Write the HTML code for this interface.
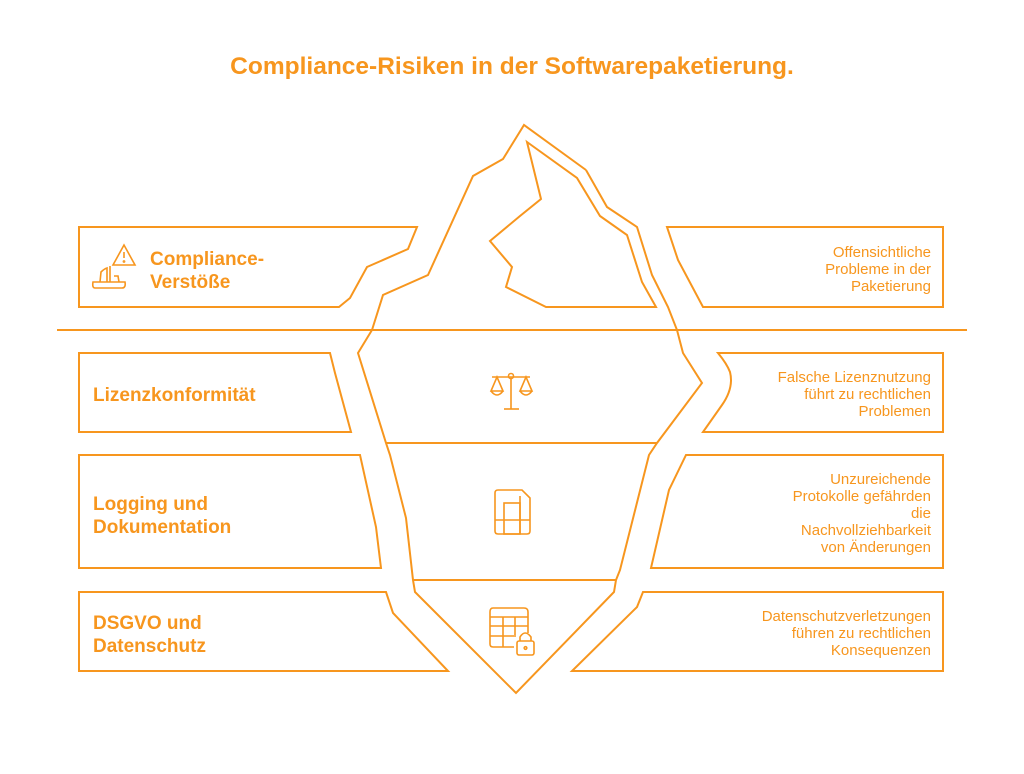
<!DOCTYPE html>
<html><head><meta charset="utf-8"><style>
html,body{margin:0;padding:0;background:#fff;}
svg{display:block}
text{font-family:"Liberation Sans",sans-serif;fill:#F7961E}
.b{font-weight:bold;font-size:19px}
.r{font-size:15px;text-anchor:end}
</style></head><body>
<svg width="1024" height="774" viewBox="0 0 1024 774" xmlns="http://www.w3.org/2000/svg">
<g fill="none" stroke="#F7961E" stroke-width="2" stroke-linejoin="miter">
<text x="512" y="74" text-anchor="middle" style="font-weight:bold;font-size:24.5px;fill:#F7961E;stroke:none">Compliance-Risiken in der Softwarepaketierung.</text>
<line x1="57" y1="330" x2="967" y2="330"/>
<polyline points="586,170 524,125 503,159 473,176 428,275 383,295 372,330 358,353 386,443 390,455 406,518 413,580 415,592 516,693 614,592 616,580 620,570 649,455 657,443 702,383 683,353 677,330 668,307 652,275 637,227 607,207 586,170"/>
<line x1="386" y1="443" x2="657" y2="443"/>
<line x1="413" y1="580" x2="616" y2="580"/>
<polygon points="527,142 577,178 600,216 627,235 642,282 656,307 546,307 506,287 512,267 490,241 520,216 541,199"/>
<polygon points="79,227 417,227 408,249 367,267 350,298 339,307 79,307"/>
<polygon points="79,353 330,353 335,373 351,432 79,432"/>
<polygon points="79,455 360,455 376,527 381,568 79,568"/>
<polygon points="79,592 386,592 393,613 448,671 79,671"/>
<polygon points="667,227 943,227 943,307 703,307 678,260"/>
<path d="M718,353 L943,353 L943,432 L703,432 L722,405 Q734,388 730,372 Q727,364 718,353 Z"/>
<polygon points="686,455 943,455 943,568 651,568 669,490"/>
<polygon points="643,592 943,592 943,671 572,671 637,607"/>
<g stroke-width="1.6">
<path d="M124,245 L113,265 L135,265 Z"/>
<line x1="124" y1="252" x2="124" y2="258"/><circle cx="124" cy="261.5" r="0.6"/>
<path d="M93,282 L125,282 Q126,288 122,288 L95,288 Q92,288 93,282 Z"/>
<path d="M100,282 L101,272 Q104,269 107,268 L107,282"/>
<line x1="110" y1="266" x2="110" y2="282"/>
<path d="M114,276 L118,276 L119,282"/>
<line x1="511" y1="378" x2="511" y2="409"/><line x1="504" y1="409" x2="519" y2="409"/>
<line x1="492" y1="377" x2="530" y2="377"/><circle cx="511" cy="376" r="2.5"/>
<path d="M497,377 L491,391 L503,391 Z M491,391 Q497,399 503,391"/>
<path d="M526,377 L520,391 L532,391 Z M520,391 Q526,399 532,391"/>
<path d="M498,490 L522,490 L530,498 L530,531 Q530,534 527,534 L498,534 Q495,534 495,531 L495,493 Q495,490 498,490 Z"/>
<rect x="504" y="503" width="16" height="31"/>
<line x1="495" y1="520" x2="530" y2="520"/><line x1="520" y1="496" x2="520" y2="534"/>
<path d="M493,608 L524,608 Q528,608 528,612 L528,633 M514,647 L493,647 Q490,647 490,644 L490,612 Q490,608 493,608"/>
<line x1="490" y1="617" x2="528" y2="617"/><line x1="490" y1="626" x2="528" y2="626"/><line x1="490" y1="636" x2="516" y2="636"/>
<line x1="503" y1="617" x2="503" y2="647"/><line x1="515" y1="617" x2="515" y2="635"/>
<rect x="517" y="641" width="17" height="14" rx="2"/><path d="M520,641 L520,637 Q525,629 531,637 L531,641"/><circle cx="525.5" cy="648" r="1.3"/>
</g>
</g>
<text class="b" x="150" y="265">Compliance-</text>
<text class="b" x="150" y="288">Verstöße</text>
<text class="b" x="93" y="401">Lizenzkonformität</text>
<text class="b" x="93" y="510">Logging und</text>
<text class="b" x="93" y="533">Dokumentation</text>
<text class="b" x="93" y="629">DSGVO und</text>
<text class="b" x="93" y="652">Datenschutz</text>
<text class="r" x="931" y="257">Offensichtliche</text>
<text class="r" x="931" y="274">Probleme in der</text>
<text class="r" x="931" y="291">Paketierung</text>
<text class="r" x="931" y="382">Falsche Lizenznutzung</text>
<text class="r" x="931" y="399">führt zu rechtlichen</text>
<text class="r" x="931" y="416">Problemen</text>
<text class="r" x="931" y="484">Unzureichende</text>
<text class="r" x="931" y="501">Protokolle gefährden</text>
<text class="r" x="931" y="518">die</text>
<text class="r" x="931" y="535">Nachvollziehbarkeit</text>
<text class="r" x="931" y="552">von Änderungen</text>
<text class="r" x="931" y="621">Datenschutzverletzungen</text>
<text class="r" x="931" y="638">führen zu rechtlichen</text>
<text class="r" x="931" y="655">Konsequenzen</text>
</svg>
</body></html>
